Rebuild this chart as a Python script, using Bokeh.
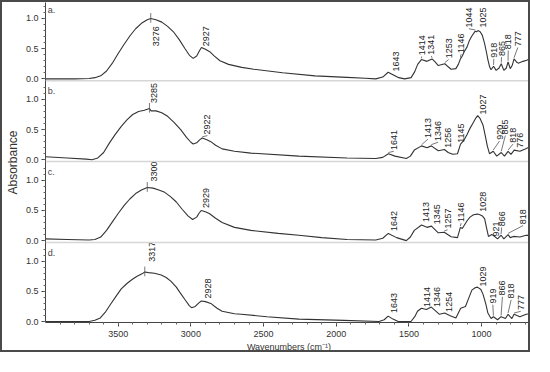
from bokeh.plotting import figure
from bokeh.models import Range1d, FixedTicker, Span, ColumnDataSource
from bokeh.core.properties import value
from bokeh.transform import dodge
from bokeh.embed import file_html
from bokeh.resources import INLINE
from math import pi

# ---------------- data ----------------
wn_a = [4000, 3800, 3700, 3660, 3620, 3580, 3540, 3500, 3460, 3420, 3380, 3340, 3300, 3276, 3240,
        3200, 3160, 3120, 3080, 3040, 3010, 2984, 2960, 2940, 2927, 2900, 2870, 2840, 2800, 2741,
        2650, 2567, 2369, 2146, 1926, 1800, 1728, 1680, 1643, 1610, 1570, 1530, 1485, 1460, 1440,
        1414, 1376, 1341, 1320, 1298, 1253, 1230, 1210, 1177, 1160, 1146, 1133, 1120, 1100, 1085,
        1067, 1044, 1035, 1025, 1010, 995, 979, 965, 957, 945, 935, 918, 900, 880, 865, 847, 830,
        818, 803, 790, 777, 760, 748, 715, 690, 670, 650]
abs_a = [0.0, 0.0, 0.005, 0.02, 0.05, 0.13, 0.26, 0.42, 0.57, 0.71, 0.83, 0.92, 0.98, 1.0, 0.98,
         0.94, 0.87, 0.78, 0.65, 0.50, 0.39, 0.34, 0.38, 0.47, 0.52, 0.49, 0.45, 0.38, 0.30, 0.24,
         0.19, 0.16, 0.10, 0.05, 0.025, 0.01, 0.0, 0.03, 0.11, 0.07, 0.02, 0.0, 0.02, 0.12, 0.24,
         0.32, 0.29, 0.33, 0.28, 0.22, 0.25, 0.20, 0.16, 0.17, 0.24, 0.33, 0.38, 0.45, 0.53, 0.63,
         0.71, 0.79, 0.78, 0.80, 0.78, 0.72, 0.58, 0.42, 0.32, 0.20, 0.15, 0.21, 0.14, 0.18, 0.25,
         0.14, 0.18, 0.28, 0.17, 0.22, 0.33, 0.28, 0.26, 0.29, 0.31, 0.33, 0.34]
peaks_a = [3276, 2927, 1643, 1414, 1341, 1253, 1146, 1044, 1025, 918, 865, 818, 777]

wn_b = [4000, 3850, 3720, 3680, 3640, 3600, 3560, 3520, 3480, 3440, 3400, 3360, 3320, 3285, 3274,
        3240, 3200, 3160, 3116, 3070, 3030, 3000, 2984, 2960, 2940, 2922, 2890, 2863, 2830, 2785,
        2700, 2587, 2257, 1926, 1728, 1680, 1641, 1596, 1518, 1490, 1463, 1413, 1376, 1346, 1298,
        1256, 1230, 1199, 1166, 1145, 1120, 1100, 1080, 1056, 1040, 1027, 1010, 990, 975, 961, 946,
        920, 896, 865, 843, 818, 798, 776, 737, 700, 682, 650]
abs_b = [0.05, 0.03, 0.01, 0.0, 0.03, 0.12, 0.28, 0.42, 0.55, 0.66, 0.75, 0.80, 0.82, 0.85, 0.81,
         0.81, 0.78, 0.72, 0.62, 0.50, 0.37, 0.29, 0.26, 0.28, 0.33, 0.36, 0.33, 0.30, 0.24, 0.18,
         0.14, 0.11, 0.06, 0.03, 0.02, 0.04, 0.10, 0.06, 0.02, 0.06, 0.16, 0.23, 0.20, 0.23, 0.15,
         0.17, 0.12, 0.09, 0.10, 0.26, 0.33, 0.42, 0.52, 0.62, 0.69, 0.73, 0.68, 0.57, 0.40, 0.23,
         0.10, 0.14, 0.06, 0.12, 0.06, 0.14, 0.09, 0.16, 0.14, 0.18, 0.20, 0.20]
peaks_b = [3285, 2922, 1641, 1413, 1346, 1256, 1145, 1027, 920, 865, 818, 776]

wn_c = [4000, 3850, 3700, 3660, 3620, 3580, 3540, 3500, 3460, 3420, 3380, 3340, 3300, 3260, 3220,
        3180, 3140, 3100, 3060, 3020, 2988, 2960, 2945, 2929, 2900, 2873, 2830, 2785, 2700, 2587,
        2400, 2257, 2100, 1926, 1728, 1680, 1642, 1585, 1518, 1490, 1463, 1413, 1376, 1345, 1298,
        1257, 1210, 1166, 1146, 1133, 1100, 1080, 1056, 1028, 1012, 995, 979, 965, 953, 930, 921,
        890, 866, 847, 818, 803, 781, 737, 693, 650]
abs_c = [0.03, 0.02, 0.01, 0.02, 0.06, 0.17, 0.31, 0.45, 0.58, 0.69, 0.78, 0.84, 0.88, 0.87, 0.84,
         0.80, 0.73, 0.64, 0.52, 0.41, 0.35, 0.39, 0.45, 0.50, 0.48, 0.45, 0.37, 0.30, 0.22, 0.17,
         0.12, 0.09, 0.05, 0.02, 0.01, 0.04, 0.12, 0.05, 0.0, 0.06, 0.17, 0.26, 0.22, 0.24, 0.13,
         0.14, 0.065, 0.05, 0.22, 0.20, 0.33, 0.39, 0.43, 0.44, 0.43, 0.41, 0.36, 0.20, 0.07, 0.10,
         0.09, 0.03, 0.09, 0.03, 0.10, 0.05, 0.07, 0.06, 0.09, 0.08]
peaks_c = [3300, 2929, 1642, 1413, 1345, 1257, 1146, 1028, 921, 866, 818]

wn_d = [4000, 3850, 3700, 3660, 3623, 3590, 3557, 3520, 3479, 3440, 3402, 3370, 3336, 3317, 3292,
        3250, 3204, 3170, 3138, 3100, 3072, 3040, 3010, 2995, 2970, 2945, 2928, 2900, 2863, 2820,
        2785, 2700, 2653, 2477, 2257, 1948, 1706, 1670, 1643, 1610, 1574, 1486, 1460, 1441, 1414,
        1380, 1346, 1290, 1254, 1220, 1177, 1144, 1111, 1090, 1067, 1045, 1029, 1005, 990, 970, 957,
        935, 919, 890, 866, 836, 818, 792, 777, 737, 693, 650]
abs_d = [0.0, 0.0, 0.0, 0.02, 0.06, 0.15, 0.27, 0.40, 0.54, 0.63, 0.70, 0.75, 0.79, 0.82, 0.81,
         0.80, 0.77, 0.73, 0.67, 0.57, 0.47, 0.36, 0.26, 0.23, 0.25, 0.31, 0.34, 0.33, 0.30, 0.22,
         0.17, 0.13, 0.12, 0.08, 0.04, 0.02, 0.0, 0.03, 0.09, 0.04, 0.0, 0.0, 0.08, 0.17, 0.22,
         0.20, 0.24, 0.12, 0.14, 0.10, 0.06, 0.22, 0.25, 0.38, 0.52, 0.56, 0.57, 0.53, 0.45, 0.28,
         0.14, 0.05, 0.08, 0.03, 0.08, 0.05, 0.12, 0.05, 0.12, 0.08, 0.12, 0.14]
peaks_d = [3317, 2928, 1643, 1414, 1346, 1254, 1029, 919, 866, 818, 777]

panel_names = ["a.", "b.", "c.", "d."]
x_ticks = [3500, 3000, 2500, 2000, 1500, 1000]
y_tick_values = [0.0, 0.5, 1.0]
y_tick_labels = ["0.0", "0.5", "1.0"]

# ---------------- layout of the peak labels (label x, label bottom) ----------------
label_pos = [
    {3276: (3243, 0.54), 2927: (2893, 0.54), 1643: (1590, 0.12), 1414: (1412, 0.39),
     1341: (1346, 0.40), 1253: (1227, 0.34), 1146: (1141, 0.43), 1044: (1088, 0.85),
     1025: (989, 0.85), 918: (916, 0.35), 865: (863, 0.38), 818: (817, 0.49), 777: (751, 0.54)},
    {3285: (3256, 0.94), 2922: (2886, 0.42), 1641: (1604, 0.16), 1413: (1370, 0.36),
     1346: (1300, 0.31), 1256: (1234, 0.20), 1145: (1141, 0.28), 1027: (989, 0.75),
     920: (877, 0.33), 865: (837, 0.42), 818: (784, 0.28), 776: (738, 0.20)},
    {3300: (3256, 0.98), 2929: (2893, 0.54), 1642: (1604, 0.16), 1413: (1386, 0.31),
     1345: (1306, 0.27), 1257: (1234, 0.20), 1146: (1141, 0.31), 1028: (989, 0.48),
     921: (903, 0.07), 866: (862, 0.24), 818: (715, 0.27)},
    {3317: (3269, 0.99), 2928: (2880, 0.38), 1643: (1604, 0.14), 1414: (1379, 0.24),
     1346: (1306, 0.24), 1254: (1227, 0.16), 1029: (989, 0.58), 919: (923, 0.30),
     866: (857, 0.43), 818: (797, 0.38), 777: (731, 0.19)},
]

FONT = "Liberation Sans"
LINE = "#333333"
TXT = "#222222"
STEP = 1.34          # vertical distance between stacked panels (absorbance units)
offsets = [3 * STEP, 2 * STEP, STEP, 0.0]

p = figure(width=530, height=352, output_backend="svg", toolbar_location=None,
           x_range=Range1d(4000, 650), y_range=Range1d(-0.016, 5.285),
           min_border_left=34, min_border_right=0, min_border_top=0, min_border_bottom=27,
           background_fill_color="white", border_fill_color="white",
           styles={"border": "2px solid #4a4a4a"})
p.outline_line_color = None
p.xgrid.visible = False
p.ygrid.visible = False

# axes
p.xaxis.ticker = FixedTicker(ticks=x_ticks, minor_ticks=list(range(700, 4000, 100)))
p.xaxis.axis_label = "Wavenumbers (cm\u207b\u00b9)"
yt, ymin, yover = [], [], {}
for o in offsets:
    for v, lab in zip(y_tick_values, y_tick_labels):
        t = round(o + v, 4)
        yt.append(t)
        yover[t] = lab
    ymin += [round(o + k * 0.1, 4) for k in range(0, 13)]
p.yaxis.ticker = FixedTicker(ticks=yt, minor_ticks=ymin)
p.yaxis.major_label_overrides = yover
p.yaxis.axis_label = "Absorbance"
for ax in (p.xaxis[0], p.yaxis[0]):
    ax.axis_line_color = "#444444"
    ax.major_tick_line_color = "#444444"
    ax.minor_tick_line_color = "#666666"
    ax.major_tick_in = 0
    ax.major_tick_out = 4
    ax.minor_tick_in = 0
    ax.minor_tick_out = 2
    ax.major_label_text_font = FONT
    ax.major_label_text_font_size = "9px"
    ax.major_label_text_color = "#333333"
    ax.axis_label_text_font = FONT
    ax.axis_label_text_font_style = "normal"
    ax.axis_label_text_color = "#333333"
p.xaxis.axis_label_text_font_size = "9px"
p.yaxis.axis_label_text_font_size = "12px"
p.xaxis.axis_label_standoff = 2
p.yaxis.axis_label_standoff = 3
p.xaxis.major_label_standoff = 4
p.yaxis.major_label_standoff = 3

# separators between panels
for o in offsets[:3]:
    p.add_layout(Span(location=o - 0.03, dimension="width", line_color="#d6d6d6", line_width=1.5))

spectra = [(wn_a, abs_a, peaks_a), (wn_b, abs_b, peaks_b), (wn_c, abs_c, peaks_c), (wn_d, abs_d, peaks_d)]

for i, ((wn, ab, pk), o) in enumerate(zip(spectra, offsets)):
    src = ColumnDataSource(dict(w=wn, a=ab))
    p.line(x="w", y=dodge("a", o), source=src, line_color=LINE, line_width=1.1)

    lookup = dict(zip(wn, ab))
    lx, ly, lt, sx0, sy0, sx1, sy1 = [], [], [], [], [], [], []
    for j, k in enumerate(pk):
        pv = lookup[k]
        x_l, y_l = label_pos[i][k]
        lx.append(x_l)
        ly.append(y_l)
        lt.append(str(k))
        if j == 0:
            sx0.append(k); sy0.append(pv - 0.07); sx1.append(k); sy1.append(pv + 0.09)
        elif y_l > pv + 0.05:
            sx0.append(k); sy0.append(pv + 0.02); sx1.append(x_l); sy1.append(y_l - 0.02)
    lsrc = ColumnDataSource(dict(x=lx, y=ly, t=lt))
    p.text(x="x", y=dodge("y", o), text="t", source=lsrc, angle=pi / 2,
           text_align="left", text_baseline="middle", text_font=value(FONT),
           text_font_size="9px", text_color=TXT)
    ssrc = ColumnDataSource(dict(x0=sx0, y0=sy0, x1=sx1, y1=sy1))
    p.segment(x0="x0", y0=dodge("y0", o), x1="x1", y1=dodge("y1", o), source=ssrc,
              line_color="#555555", line_width=0.8)

# panel letters
for name, o in zip(panel_names, offsets):
    p.text(x=[3985], y=[o + 1.22], text=[name], text_align="left", text_baseline="top",
           text_font=value(FONT), text_font_size="9px", text_color="#444444")

open("out.html", "w").write(file_html(p, INLINE))
